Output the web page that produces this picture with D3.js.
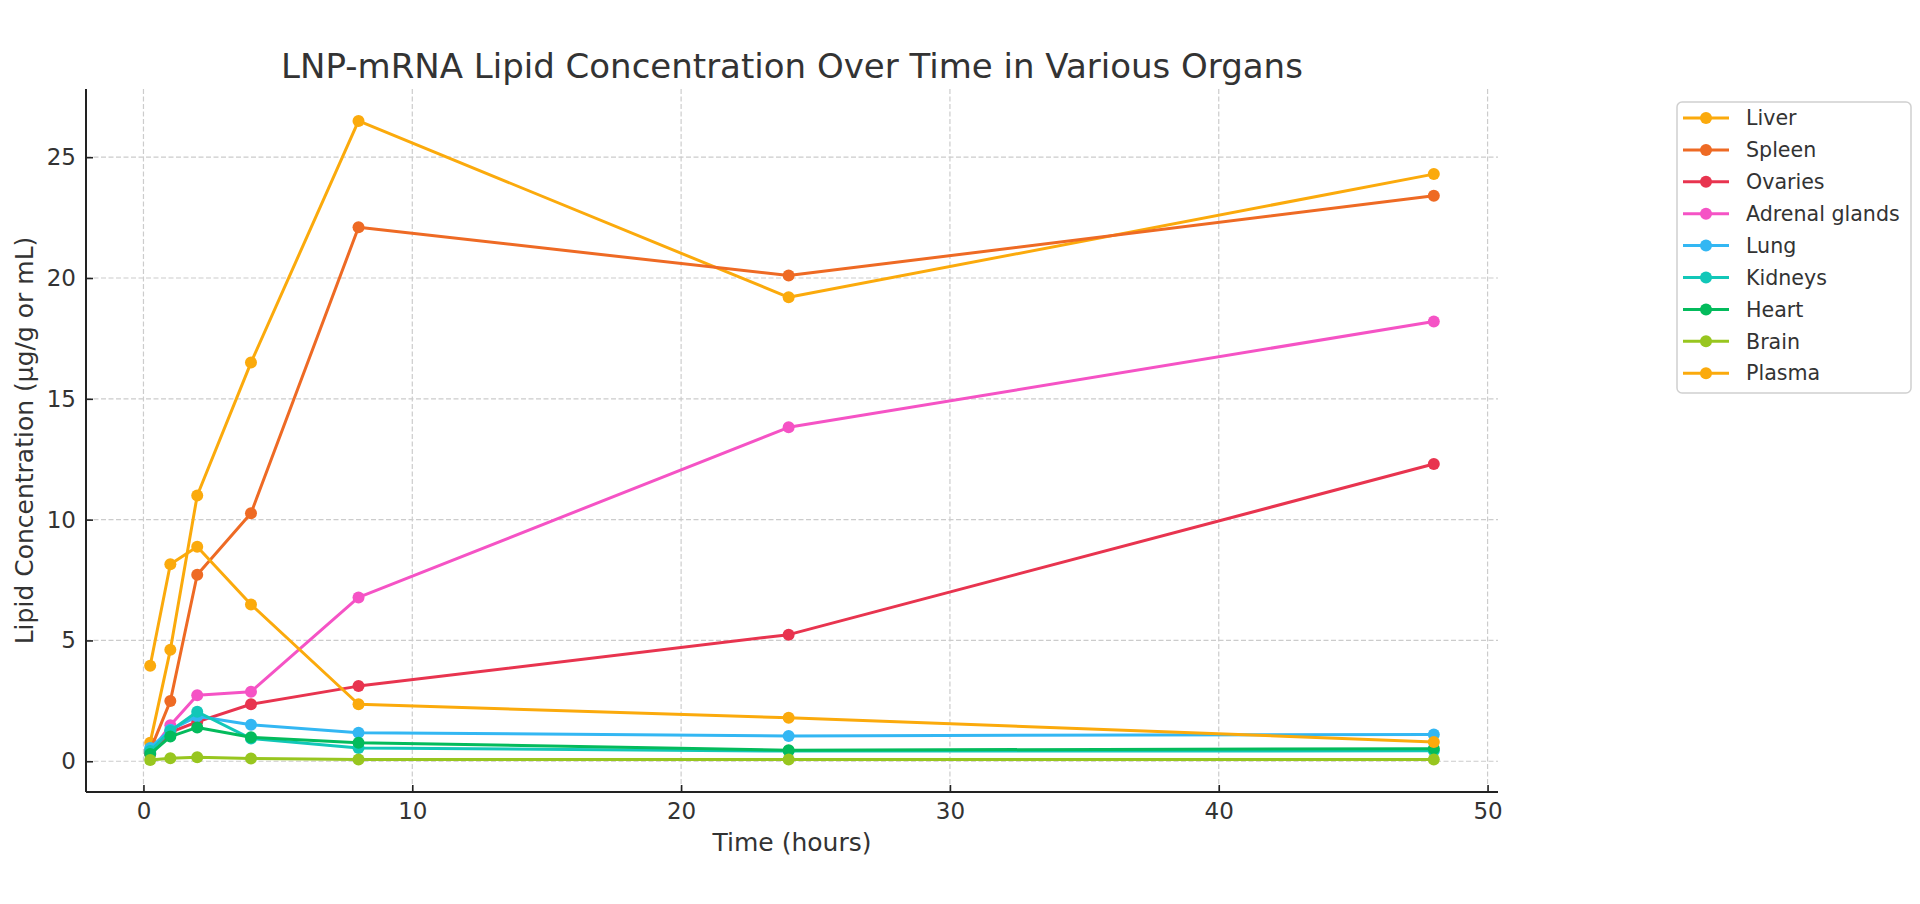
<!DOCTYPE html>
<html>
<head>
<meta charset="utf-8">
<script src="https://cdn.jsdelivr.net/npm/d3@7"></script>
<style>
  body { margin: 0; background: #fff; }
  text { font-family: "DejaVu Sans", sans-serif; fill: #333; }
  .grid line { stroke: #cccccc; stroke-width: 1.2; stroke-dasharray: 5,2.5; }
  .axis path, .axis line { stroke: #222; }
  .axis path { stroke-width: 2; }
  .axis line { stroke-width: 1.6; }
</style>
</head>
<body>
<div id="chart"></div>
<script>
// Data
var hours = [0.25, 1, 2, 4, 8, 24, 48];
var organs = ["Liver", "Spleen", "Ovaries", "Adrenal glands", "Lung", "Kidneys", "Heart", "Brain", "Plasma"];
var colors = ["#fbaa0c", "#ee6a24", "#e8344f", "#f553c5", "#33b7f3", "#12c7b8", "#03bb5c", "#98c61f", "#fbaa0c"];

var liver    = [0.77, 4.61, 11.0, 16.5, 26.5, 19.2, 24.3];
var spleen   = [0.45, 2.49, 7.72, 10.26, 22.1, 20.1, 23.4];
var ovaries  = [0.3, 1.2, 1.63, 2.36, 3.11, 5.24, 12.3];
var adrenal  = [0.35, 1.49, 2.73, 2.88, 6.78, 13.82, 18.2];
var lung     = [0.55, 1.3, 1.86, 1.51, 1.18, 1.05, 1.11];
var kidneys  = [0.42, 1.25, 2.05, 0.94, 0.55, 0.42, 0.43];
var heart    = [0.3, 1.02, 1.4, 0.99, 0.77, 0.46, 0.52];
var brain    = [0.05, 0.12, 0.17, 0.11, 0.07, 0.07, 0.07];
var plasma   = [3.95, 8.15, 8.88, 6.49, 2.36, 1.8, 0.8];

var seriesValues = [liver, spleen, ovaries, adrenal, lung, kidneys, heart, brain, plasma];
var xTicks = [0, 10, 20, 30, 40, 50];
var yTicks = [0, 5, 10, 15, 20, 25];

// Dimensions
var svgWidth = 1920;
var svgHeight = 904;
var plot = { left: 86, right: 1498, top: 89, bottom: 792 };

var svg = d3.select("#chart")
  .append("svg")
  .attr("width", svgWidth)
  .attr("height", svgHeight);

// Scales with 5% margins like matplotlib
function padded(ext) {
  var m = (ext[1] - ext[0]) * 0.05;
  return [ext[0] - m, ext[1] + m];
}
var allValues = d3.merge(seriesValues);
var xScale = d3.scaleLinear().domain(padded(d3.extent(hours))).range([plot.left, plot.right]);
var yScale = d3.scaleLinear().domain(padded(d3.extent(allValues))).range([plot.bottom, plot.top]);

// Grid
svg.append("g")
  .attr("class", "grid")
  .selectAll("line.vx")
  .data(xTicks)
  .enter()
  .append("line")
  .attr("x1", d => xScale(d))
  .attr("x2", d => xScale(d))
  .attr("y1", plot.top)
  .attr("y2", plot.bottom);
svg.select(".grid")
  .selectAll("line.hy")
  .data(yTicks)
  .enter()
  .append("line")
  .attr("x1", plot.left)
  .attr("x2", plot.right)
  .attr("y1", d => yScale(d))
  .attr("y2", d => yScale(d));

// Axes
var bottomAxis = d3.axisBottom(xScale).tickValues(xTicks).tickSizeInner(-7).tickSizeOuter(0).tickPadding(11);
var leftAxis = d3.axisLeft(yScale).tickValues(yTicks).tickSizeInner(-7).tickSizeOuter(0).tickPadding(10);

var xAxis = svg.append("g")
  .attr("class", "axis")
  .attr("transform", `translate(0, ${plot.bottom})`)
  .call(bottomAxis);
xAxis.select(".domain").attr("d", `M${plot.left},0H${plot.right}`);

var yAxis = svg.append("g")
  .attr("class", "axis")
  .attr("transform", `translate(${plot.left}, 0)`)
  .call(leftAxis);
yAxis.select(".domain").attr("d", `M0,${plot.bottom}V${plot.top}`);

svg.selectAll(".axis text")
  .style("font-size", "23px")
  .style("fill", "#333");

// Lines and markers
var line = d3.line()
  .x((d, i) => xScale(hours[i]))
  .y(d => yScale(d));

seriesValues.forEach(function(vals, s) {
  var g = svg.append("g");
  g.append("path")
    .attr("d", line(vals))
    .attr("fill", "none")
    .attr("stroke", colors[s])
    .attr("stroke-width", 3)
    .attr("stroke-linejoin", "round");
  g.selectAll("circle")
    .data(vals)
    .enter()
    .append("circle")
    .attr("cx", (d, i) => xScale(hours[i]))
    .attr("cy", d => yScale(d))
    .attr("r", 6)
    .attr("fill", colors[s]);
});

// Title and labels
svg.append("text")
  .attr("x", (plot.left + plot.right) / 2)
  .attr("y", 78)
  .attr("text-anchor", "middle")
  .style("font-size", "34px")
  .text("LNP-mRNA Lipid Concentration Over Time in Various Organs");

svg.append("text")
  .attr("x", (plot.left + plot.right) / 2)
  .attr("y", 851)
  .attr("text-anchor", "middle")
  .style("font-size", "25px")
  .text("Time (hours)");

svg.append("text")
  .attr("transform", `translate(33, ${(plot.top + plot.bottom) / 2}) rotate(-90)`)
  .attr("text-anchor", "middle")
  .style("font-size", "25px")
  .text("Lipid Concentration (µg/g or mL)");

// Legend
var legend = svg.append("g").attr("transform", "translate(1677, 102)");
legend.append("rect")
  .attr("width", 234)
  .attr("height", 291)
  .attr("rx", 5)
  .attr("fill", "#fff")
  .attr("stroke", "#d0d0d0")
  .attr("stroke-width", 1.5);

var items = legend.selectAll(".item")
  .data(organs)
  .enter()
  .append("g")
  .attr("transform", (d, i) => `translate(0, ${16 + i * 31.9})`);
items.append("line")
  .attr("x1", 6)
  .attr("x2", 52)
  .attr("stroke", (d, i) => colors[i])
  .attr("stroke-width", 3);
items.append("circle")
  .attr("cx", 29)
  .attr("r", 6)
  .attr("fill", (d, i) => colors[i]);
items.append("text")
  .attr("x", 69)
  .attr("dy", "0.35em")
  .style("font-size", "20.6px")
  .text(d => d);
</script>
</body>
</html>
